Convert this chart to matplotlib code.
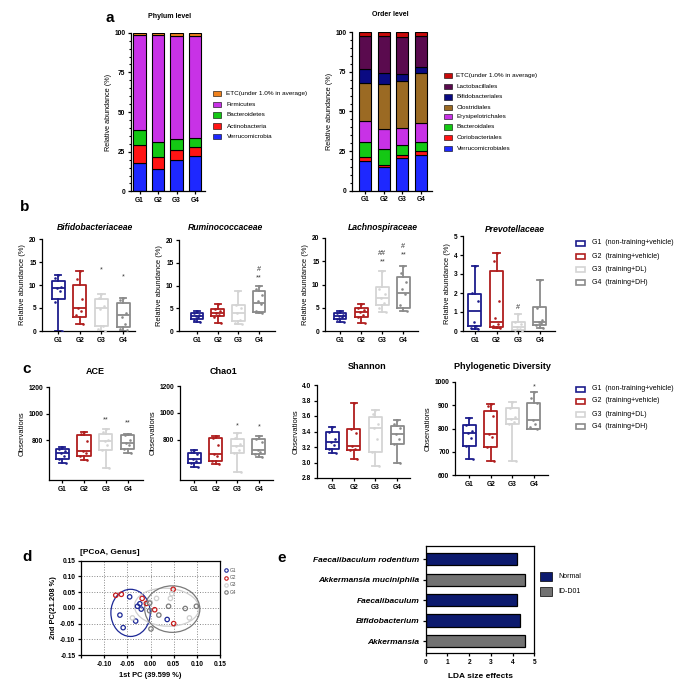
import matplotlib
matplotlib.use('Agg')
import matplotlib.pyplot as plt
from matplotlib.patches import Rectangle, Ellipse
import numpy as np

plt.rcParams['font.family'] = ['Liberation Sans', 'DejaVu Sans']
plt.rcParams['axes.linewidth'] = 0.9
plt.rcParams['xtick.major.width'] = 0.9
plt.rcParams['ytick.major.width'] = 0.9
plt.rcParams['xtick.major.size'] = 2.5
plt.rcParams['ytick.major.size'] = 2.5

W, H = 685, 694
fig = plt.figure(figsize=(W / 100, H / 100), dpi=100)


def add_ax(x0, y0, x1, y1):
    return fig.add_axes([x0 / W, 1 - y1 / H, (x1 - x0) / W, (y1 - y0) / H])


def ftext(x, y, s, **kw):
    fig.text(x / W, 1 - y / H, s, **kw)


def frect(x, y, w, h, **kw):
    fig.patches.append(Rectangle((x / W, 1 - (y + h) / H), w / W, h / H,
                                 transform=fig.transFigure, figure=fig, **kw))


# ---------------- data ----------------
groups = ['G1', 'G2', 'G3', 'G4']
group_labels = ['G1  (non-training+vehicle)', 'G2  (training+vehicle)',
                'G3  (training+DL)', 'G4  (training+DH)']
group_colors = ['#1c1c8c', '#b01e1e', '#d4d4d4', '#8a8a8a']

phylum_names = ['Verrucomicrobia', 'Actinobacteria', 'Bacteroidetes', 'Firmicutes',
                'ETC(under 1.0% in average)']
phylum_colors = ['#1e28ff', '#ff1414', '#14c814', '#c832e6', '#f0821e']
phylum_verruco = [18.0, 14.0, 19.7, 22.3]
phylum_actino = [11.0, 7.8, 6.5, 5.7]
phylum_bactero = [9.6, 9.5, 6.6, 5.6]
phylum_firmi = [60.2, 67.5, 65.4, 64.6]
phylum_etc = [1.2, 1.2, 1.8, 1.8]

order_names = ['Verrucomicrobiales', 'Coriobacteriales', 'Bacteroidales',
               'Erysipelotrichales', 'Clostridiales', 'Bifidobacteriales',
               'Lactobacillales', 'ETC(under 1.0% in average)']
order_colors = ['#1e28ff', '#ff1414', '#14c814', '#c832e6', '#9b6a23',
                '#0a0a82', '#5a0a4e', '#c80a0a']
order_verruco = [18.4, 15.0, 20.3, 22.8]
order_corio = [2.6, 1.3, 1.9, 1.9]
order_bactero = [9.8, 9.7, 6.3, 6.1]
order_erysip = [13.0, 12.6, 11.3, 12.2]
order_clostr = [24.2, 28.9, 29.2, 31.2]
order_bifido = [8.6, 6.5, 4.4, 3.6]
order_lacto = [21.3, 23.7, 23.9, 20.0]
order_etc = [2.1, 2.3, 2.7, 2.2]

# box stats: [min, q1, median, q3, max] per group
bifido_stats = [[0, 7.0, 9.4, 10.8, 12.2], [1.5, 3.1, 5.0, 10.1, 13.0],
                [0, 1.0, 5.0, 7.0, 8.1], [0, 0.8, 3.4, 6.1, 7.2]]
bifido_pts = [[12.2, 11.5, 9.5, 9.3, 8.8, 6.2, 0], [13.0, 11.2, 6.9, 5.0, 4.3, 3.5, 1.5],
              [8.1, 7.2, 5.5, 4.8, 1.0, 0.5, 0], [7.2, 6.8, 4.0, 3.0, 1.5, 0.5, 0.2]]
bifido_marks = [None, None, ['*', 12.6], ['*', 11.1]]

rumino_stats = [[2.0, 2.6, 3.3, 3.9, 4.5], [1.8, 3.2, 4.0, 4.8, 5.9],
                [1.6, 2.2, 4.0, 5.8, 8.8], [4.0, 4.2, 6.2, 8.8, 10.0]]
rumino_pts = [[4.5, 4.0, 3.6, 3.3, 3.0, 2.5, 2.0], [5.9, 4.8, 4.3, 4.0, 3.6, 3.0, 1.8],
              [8.8, 5.8, 5.0, 4.0, 2.5, 1.8, 1.6], [10.0, 9.2, 8.0, 6.5, 6.0, 4.5, 4.0]]
rumino_marks = [None, None, None, ['#\n**', 11.0]]

lachno_stats = [[2.0, 2.6, 3.3, 3.9, 4.3], [1.8, 3.0, 4.0, 5.0, 5.8],
                [4.0, 5.5, 7.0, 9.4, 13.0], [4.2, 5.0, 8.2, 11.6, 14.0]]
lachno_pts = [[4.3, 3.8, 3.5, 3.2, 3.0, 2.5, 2.0], [5.8, 5.0, 4.5, 4.0, 3.5, 3.0, 1.8],
              [13.0, 9.0, 8.0, 7.0, 6.0, 5.0, 4.0], [14.0, 12.5, 10.5, 9.0, 8.0, 5.5, 4.2]]
lachno_marks = [None, None, ['##\n**', 14.2], ['#\n**', 15.6]]

prevo_stats = [[0.1, 0.25, 1.05, 1.97, 3.4], [0.15, 0.22, 0.45, 3.15, 4.1],
               [0.0, 0.05, 0.2, 0.5, 0.9], [0.15, 0.3, 0.45, 1.25, 2.7]]
prevo_pts = [[3.4, 2.0, 1.6, 0.5, 0.25, 0.15, 0.1], [4.1, 3.7, 1.6, 0.7, 0.35, 0.25, 0.15],
             [0.9, 0.5, 0.35, 0.2, 0.1, 0.05, 0.0], [2.7, 1.2, 0.6, 0.45, 0.4, 0.3, 0.15]]
prevo_marks = [None, None, ['#', 1.05], None]

ace_stats = [[630, 660, 700, 735, 745], [650, 680, 722, 840, 865],
             [590, 727, 795, 845, 885], [700, 735, 775, 840, 847]]
ace_pts = [[745, 735, 720, 700, 680, 660, 630], [865, 845, 790, 722, 700, 680, 650],
           [885, 860, 800, 795, 760, 727, 590], [847, 840, 800, 775, 760, 735, 700]]
ace_marks = [None, None, ['**', 925], ['**', 905]]

chao_stats = [[600, 630, 660, 700, 720], [620, 640, 695, 810, 830],
              [560, 700, 755, 805, 848], [670, 690, 720, 805, 830]]
chao_pts = [[720, 705, 690, 660, 645, 630, 600], [830, 815, 760, 695, 680, 640, 620],
            [848, 810, 770, 755, 720, 700, 560], [830, 805, 780, 720, 710, 690, 670]]
chao_marks = [None, None, ['*', 875], ['*', 870]]

shannon_stats = [[3.12, 3.18, 3.27, 3.40, 3.46], [3.05, 3.16, 3.21, 3.43, 3.77],
                 [2.95, 3.13, 3.45, 3.59, 3.68], [3.0, 3.24, 3.37, 3.47, 3.55]]
shannon_pts = [[3.46, 3.40, 3.30, 3.27, 3.22, 3.18, 3.12], [3.77, 3.43, 3.38, 3.21, 3.18, 3.16, 3.05],
               [3.68, 3.62, 3.50, 3.45, 3.30, 3.13, 2.95], [3.55, 3.50, 3.45, 3.37, 3.30, 3.24, 3.0]]

pd_stats = [[670, 725, 781, 814, 845], [660, 720, 777, 877, 906],
            [660, 820, 843, 890, 913], [800, 800, 835, 911, 958]]
pd_pts = [[845, 814, 790, 781, 760, 725, 670], [906, 895, 852, 777, 765, 720, 660],
          [913, 890, 850, 843, 830, 820, 660], [958, 930, 911, 835, 820, 805, 800]]
pd_marks = [None, None, None, ['*', 962]]

pcoa_g1_x = [-0.045, -0.066, -0.059, -0.032, -0.028, -0.023, -0.020, 0.036]
pcoa_g1_y = [0.035, -0.023, -0.063, -0.042, 0.005, 0.013, -0.004, -0.037]
pcoa_g2_x = [-0.075, -0.063, -0.018, -0.009, 0.009, 0.049, 0.050]
pcoa_g2_y = [0.040, 0.043, 0.030, 0.014, -0.006, 0.059, -0.050]
pcoa_g3_x = [-0.039, -0.001, 0.013, 0.043, 0.084, 0.046]
pcoa_g3_y = [-0.032, 0.018, 0.030, 0.030, -0.032, 0.045]
pcoa_g4_x = [-0.002, 0.001, 0.018, 0.039, 0.075, 0.099, -0.002]
pcoa_g4_y = [0.015, -0.067, -0.023, 0.005, -0.002, 0.005, -0.009]

lda_taxa = ['Faecalibaculum rodentium', 'Akkermansia muciniphila', 'Faecalibaculum',
            'Bifidobacterium', 'Akkermansia']
lda_values = [4.22, 4.58, 4.22, 4.35, 4.57]
lda_group = ['Normal', 'ID-D01', 'Normal', 'Normal', 'ID-D01']
lda_colors = {'Normal': '#0c1a6e', 'ID-D01': '#727272'}

TICK_FS = 4.8
BOLD = 'bold'


def style_ticks(ax):
    for lab in ax.get_xticklabels() + ax.get_yticklabels():
        lab.set_fontweight(BOLD)
        lab.set_fontsize(TICK_FS)
    ax.tick_params(axis='both', pad=1.5)


# ---------------- panel a ----------------
def stacked(ax, segs, colors, xlim):
    x = np.arange(4)
    bottom = np.zeros(4)
    for seg, c in zip(segs, colors):
        ax.bar(x, seg, bottom=bottom, width=0.65, color=c, edgecolor='black', linewidth=0.8)
        bottom += np.array(seg)
    ax.set_xlim(*xlim)
    ax.set_ylim(0, 100)
    ax.set_yticks([0, 25, 50, 75, 100])
    ax.set_yticks(np.arange(0, 101, 5), minor=True)
    ax.tick_params(axis='y', which='minor', length=1.5, width=0.8)
    ax.set_xticks(x)
    ax.set_xticklabels(groups)
    for s in ['top', 'right']:
        ax.spines[s].set_visible(False)
    ax.set_ylabel('Relative abundance (%)', fontsize=5.2, labelpad=2)
    style_ticks(ax)


ax_ph = add_ax(131, 32.7, 205, 191.4)
stacked(ax_ph, [phylum_verruco, phylum_actino, phylum_bactero, phylum_firmi, phylum_etc],
        phylum_colors, (-0.46, 3.54))
ftext(170, 16, 'Phylum level', fontsize=5, fontweight='bold', ha='center', va='center')

ax_or = add_ax(352, 32.3, 432, 190.6)
stacked(ax_or, [order_verruco, order_corio, order_bactero, order_erysip, order_clostr,
                order_bifido, order_lacto, order_etc], order_colors, (-0.73, 3.6))
ftext(390, 14, 'Order level', fontsize=5, fontweight='bold', ha='center', va='center')

ftext(110, 18, 'a', fontsize=11, fontweight='bold', ha='center', va='center')

ph_leg_y = [93.3, 104.7, 115, 126, 136.7]
for yy, name, c in zip(ph_leg_y, phylum_names[::-1], phylum_colors[::-1]):
    frect(213, yy - 2.5, 8, 5, facecolor=c, edgecolor='black', linewidth=0.4)
    ftext(226.5, yy, name, fontsize=4.6, va='center', ha='left')

or_leg_y = [75.3, 86.3, 97, 107.7, 116.3, 127, 137.7, 148.7]
for yy, name, c in zip(or_leg_y, order_names[::-1], order_colors[::-1]):
    frect(443.5, yy - 2.5, 8, 5, facecolor=c, edgecolor='black', linewidth=0.4)
    ftext(456.5, yy, name, fontsize=4.6, va='center', ha='left')

# ---------------- box panels ----------------
offs = np.array([0.0, -0.13, 0.12, -0.06, 0.07, -0.16, 0.16])


def box_panel(rect, stats, pts, marks, ylim, yticks, ylabel, xlim, tick_fmt=None):
    ax = add_ax(*rect)
    for i in range(4):
        lo, q1, med, q3, hi = stats[i]
        st = dict(med=med, q1=q1, q3=q3, whislo=lo, whishi=hi, fliers=[])
        c = group_colors[i]
        lp = dict(color=c, linewidth=1.3)
        ax.bxp([st], positions=[i], widths=0.6, showfliers=False, boxprops=lp,
               medianprops=lp, whiskerprops=lp, capprops=lp, capwidths=0.3)
        p = pts[i]
        ax.scatter(i + offs[:len(p)], p, s=3.5, color=c, zorder=3, linewidths=0)
        if marks is not None and marks[i] is not None:
            ax.text(i, marks[i][1], marks[i][0], ha='center', va='bottom', fontsize=5.2,
                    color='#333333', linespacing=1.25)
    ax.set_xlim(*xlim)
    ax.set_ylim(*ylim)
    ax.set_yticks(yticks)
    if tick_fmt:
        ax.set_yticklabels([tick_fmt.format(t) for t in yticks])
    ax.set_xticks(range(4))
    ax.set_xticklabels(groups)
    for s in ['top', 'right']:
        ax.spines[s].set_visible(False)
    ax.set_ylabel(ylabel, fontsize=5.4, labelpad=2)
    style_ticks(ax)
    return ax


b_title_y = 227
bt = dict(fontsize=6.2, fontweight='bold', fontstyle='italic', ha='center', va='center')
box_panel((42, 239, 135, 331), bifido_stats, bifido_pts, bifido_marks, (0, 20), [0, 5, 10, 15, 20],
          'Relative abundance (%)', (-0.74, 3.55))
ftext(95, b_title_y, 'Bifidobacteriaceae', **bt)
box_panel((179, 240, 275, 331), rumino_stats, rumino_pts, rumino_marks, (0, 20), [0, 5, 10, 15, 20],
          'Relative abundance (%)', (-0.87, 3.77))
ftext(225, b_title_y, 'Ruminococcaceae', **bt)
box_panel((325, 238, 418, 331), lachno_stats, lachno_pts, lachno_marks, (0, 20), [0, 5, 10, 15, 20],
          'Relative abundance (%)', (-0.72, 3.7))
ftext(383, b_title_y, 'Lachnospiraceae', **bt)
box_panel((463, 236, 555, 331), prevo_stats, prevo_pts, prevo_marks, (0, 5), [0, 1, 2, 3, 4, 5],
          'Relative abundance (%)', (-0.55, 3.7))
ftext(515, 229, 'Prevotellaceae', **bt)
ftext(25, 207, 'b', fontsize=11, fontweight='bold', ha='center', va='center')


def group_legend(ys):
    for yy, lab, c in zip(ys, group_labels, group_colors):
        frect(575.5, yy - 2.5, 9, 5, facecolor='white', edgecolor=c, linewidth=1.2)
        ftext(592, yy, lab, fontsize=5, va='center', ha='left')


group_legend([243, 256, 269.5, 283])

ct = dict(fontsize=6.5, fontweight='bold', ha='center', va='center')
box_panel((49, 387, 143, 480), ace_stats, ace_pts, ace_marks, (500, 1200), [800, 1000, 1200],
          'Observations', (-0.6, 3.7))
ftext(95, 372, 'ACE', **ct)
box_panel((180, 386, 273, 480), chao_stats, chao_pts, chao_marks, (500, 1200), [800, 1000, 1200],
          'Observations', (-0.65, 3.65))
ftext(223, 372, 'Chao1', **ct)
box_panel((317, 385, 410, 478), shannon_stats, shannon_pts, None, (2.8, 4.0),
          [2.8, 3.0, 3.2, 3.4, 3.6, 3.8, 4.0], 'Observations', (-0.7, 3.6), tick_fmt='{:.1f}')
ftext(367, 367, 'Shannon', **ct)
box_panel((455, 382, 548, 475), pd_stats, pd_pts, pd_marks, (600, 1000), [600, 700, 800, 900, 1000],
          'Observations', (-0.65, 3.65))
ftext(502, 367, 'Phylogenetic Diversity', **ct)
ftext(27, 369, 'c', fontsize=11, fontweight='bold', ha='center', va='center')
group_legend([389, 401, 414, 426.7])

# ---------------- panel d ----------------
axd = add_ax(81, 560.7, 220, 655)
axd.set_xlim(-0.15, 0.15)
axd.set_ylim(-0.15, 0.15)
ticks = [-0.15, -0.10, -0.05, 0.0, 0.05, 0.10, 0.15]
axd.set_xticks(ticks)
axd.set_xticklabels([''] + ['{:.2f}'.format(t) for t in ticks[1:]])
axd.set_yticks(ticks)
axd.set_yticklabels(['{:.2f}'.format(t) for t in ticks])
axd.grid(True, linestyle=':', color='#888888', linewidth=0.7)
axd.set_axisbelow(True)
pc_sets = [(pcoa_g1_x, pcoa_g1_y), (pcoa_g2_x, pcoa_g2_y), (pcoa_g3_x, pcoa_g3_y),
           (pcoa_g4_x, pcoa_g4_y)]
pc_cols = ['#1c2896', '#c81e1e', '#cfcfcf', '#7a7a7a']
for (xs, ys), c in zip(pc_sets, pc_cols):
    axd.scatter(xs, ys, s=10, facecolors='none', edgecolors=c, linewidths=0.9, zorder=3)
axd.add_patch(Ellipse((-0.043, -0.016), 0.085, 0.15, angle=0, fill=False, edgecolor=pc_cols[0], lw=0.9))
axd.add_patch(Ellipse((0.035, 0.002), 0.14, 0.12, angle=-12, fill=False, edgecolor=pc_cols[2], lw=0.9))
axd.add_patch(Ellipse((0.047, -0.004), 0.119, 0.148, angle=0, fill=False, edgecolor=pc_cols[3], lw=0.9))
axd.set_xlabel('1st PC (39.599 %)', fontsize=5.4, fontweight='bold', labelpad=3)
axd.set_ylabel('2nd PC(21.208 %)', fontsize=5.4, fontweight='bold', labelpad=2)
style_ticks(axd)
ftext(110, 553, '[PCoA, Genus]', fontsize=6, fontweight='bold', ha='center', va='center')
ftext(27, 557, 'd', fontsize=11, fontweight='bold', ha='center', va='center')
for yy, g, c in zip([570, 577.7, 585, 592.3], groups, pc_cols):
    fig.lines.append(plt.Line2D([226 / W], [1 - yy / H], marker='o', markersize=2.5,
                                markerfacecolor='none', markeredgecolor=c, markeredgewidth=0.8,
                                transform=fig.transFigure, figure=fig))
    ftext(230, yy, g, fontsize=3.5, va='center', ha='left', color='#555555')

# ---------------- panel e ----------------
axe = add_ax(425.7, 546, 534.3, 653.3)
ypos = np.arange(len(lda_taxa))
axe.barh(ypos, lda_values, height=0.6, color=[lda_colors[g] for g in lda_group],
         edgecolor='black', linewidth=0.9)
axe.set_ylim(4.6, -0.65)
axe.set_xlim(0, 5)
axe.set_xticks([0, 1, 2, 3, 4, 5])
axe.set_yticks(ypos)
axe.set_yticklabels(lda_taxa)
style_ticks(axe)
for lab in axe.get_yticklabels():
    lab.set_fontstyle('italic')
    lab.set_fontsize(6)
axe.tick_params(axis='y', pad=2)
axe.set_xlabel('LDA size effects', fontsize=6, fontweight='bold', labelpad=5)
ftext(282, 558, 'e', fontsize=11, fontweight='bold', ha='center', va='center')
for yy, lab in zip([576.5, 591.5], ['Normal', 'ID-D01']):
    frect(540, yy - 4.7, 11.5, 9.4, facecolor=lda_colors[lab], edgecolor='black', linewidth=0.5)
    ftext(558, yy, lab, fontsize=5, va='center', ha='left')

fig.savefig('out.png', dpi=100)
